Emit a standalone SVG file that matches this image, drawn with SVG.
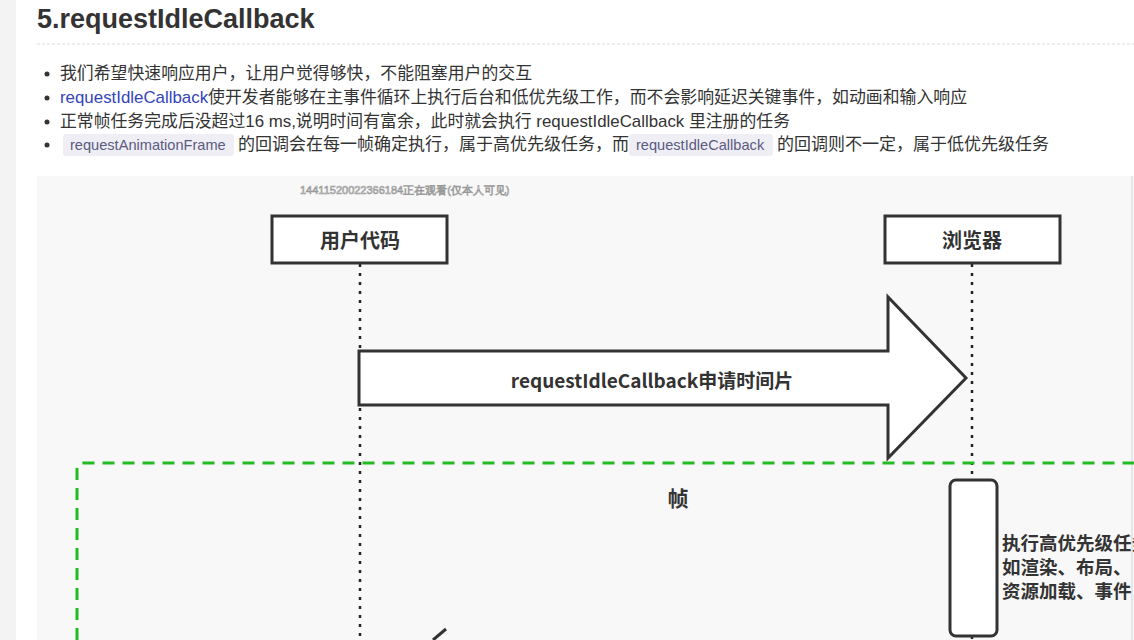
<svg xmlns="http://www.w3.org/2000/svg" width="1134" height="640" viewBox="0 0 1134 640">
<defs>
<style>
.t{font-family:"Liberation Sans","Noto Sans CJK SC",sans-serif;fill:#333}
.b{font-family:"Noto Sans CJK SC","Liberation Sans",sans-serif;fill:#333;font-weight:bold}
.box{fill:#fff;stroke:#333;stroke-width:3}
.life{stroke:#222;stroke-width:2.5;stroke-dasharray:3 6;fill:none}
.code{fill:#efeef5}
.ct{font-family:"Liberation Sans",sans-serif;font-size:14.6px;fill:#5a5a80}
</style>
</defs>
<rect width="1134" height="640" fill="#fff"/>
<rect x="0" y="0" width="16" height="640" fill="#f3f3f3"/>
<text class="t" x="37" y="28" font-size="27" font-weight="bold">5.requestIdleCallback</text>
<line x1="37" y1="44" x2="1134" y2="44" stroke="#ddd" stroke-width="1" stroke-dasharray="3 2"/>
<g id="bullets">
<circle cx="47" cy="74" r="2.5" fill="#333"/>
<circle cx="47" cy="98" r="2.5" fill="#333"/>
<circle cx="47" cy="122" r="2.5" fill="#333"/>
<circle cx="47" cy="145" r="2.5" fill="#333"/>
<text class="t" x="60" y="79" font-size="17" textLength="472" lengthAdjust="spacingAndGlyphs">我们希望快速响应用户，让用户觉得够快，不能阻塞用户的交互</text>
<text class="t" x="60" y="103" font-size="17" textLength="907" lengthAdjust="spacingAndGlyphs"><tspan fill="#3344bb">requestIdleCallback</tspan>使开发者能够在主事件循环上执行后台和低优先级工作，而不会影响延迟关键事件，如动画和输入响应</text>
<text class="t" x="60" y="127" font-size="17" textLength="730" lengthAdjust="spacingAndGlyphs">正常帧任务完成后没超过16 ms,说明时间有富余，此时就会执行 requestIdleCallback 里注册的任务</text>
<rect class="code" x="63" y="134" width="171" height="22" rx="3"/>
<text class="ct" x="70" y="150">requestAnimationFrame</text>
<text class="t" x="238" y="150" font-size="17">的回调会在每一帧确定执行，属于高优先级任务，而</text>
<rect class="code" x="629" y="134" width="144" height="22" rx="3"/>
<text class="ct" x="636" y="150">requestIdleCallback</text>
<text class="t" x="777" y="150" font-size="17">的回调则不一定，属于低优先级任务</text>
</g>
<rect x="37" y="176" width="1097" height="464" fill="#f8f8f8"/>
<line x1="1132" y1="176" x2="1132" y2="640" stroke="#e6e6e6" stroke-width="2"/>
<text x="300" y="194" font-family="Liberation Sans,sans-serif" font-size="11" fill="#fff" stroke="#999" stroke-width="0.7">14411520022366184正在观看(仅本人可见)</text>
<g id="connectors">
<line class="life" x1="360" y1="264" x2="360" y2="640"/>
<line class="life" x1="972" y1="264" x2="972" y2="480"/>
<line class="life" x1="972" y1="636" x2="972" y2="640"/>
<path d="M446 629 L433 640" stroke="#333" stroke-width="3" fill="none"/>
</g>
<g id="arrow">
<path class="box" d="M359 351 H888 V297 L966 378 L888 458 V405 H359 Z"/>
<text class="b" x="652" y="388" font-size="19" text-anchor="middle">requestIdleCallback申请时间片</text>
</g>
<g id="frame">
<path d="M77 640 V469 Q77 463 83 463 H1134" fill="none" stroke="#22bb22" stroke-width="3" stroke-dasharray="12 8"/>
<text class="b" x="678" y="506" font-size="21" text-anchor="middle">帧</text>
</g>
<g id="user">
<rect class="box" x="272" y="216" width="175" height="47"/>
<text class="b" x="360" y="248" font-size="20" text-anchor="middle">用户代码</text>
</g>
<g id="browser">
<rect class="box" x="885" y="216" width="175" height="47"/>
<text class="b" x="972" y="248" font-size="20" text-anchor="middle">浏览器</text>
</g>
<g id="activation">
<rect class="box" x="950" y="480" width="47" height="156" rx="6"/>
<text class="b" x="1002" y="550" font-size="18.5">执行高优先级任务</text>
<text class="b" x="1002" y="574" font-size="18.5">如渲染、布局、</text>
<text class="b" x="1002" y="598" font-size="18.5">资源加载、事件</text>
</g>
</svg>
